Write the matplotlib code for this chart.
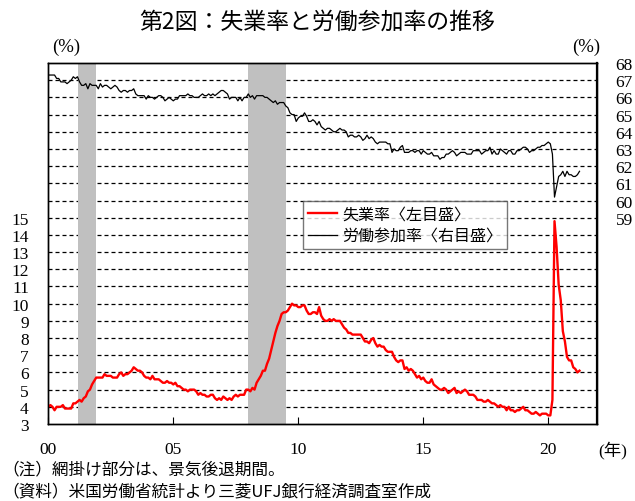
#!/usr/bin/env python3
"""US unemployment rate and labour force participation rate, 2000-2021."""

import numpy as np
import matplotlib

matplotlib.use("Agg")
import matplotlib.pyplot as plt
from matplotlib.lines import Line2D

JP_FONT = ["Noto Sans CJK JP", "DejaVu Sans"]
NUM_FONT = ["Liberation Serif", "DejaVu Serif"]

plt.rcParams["font.family"] = NUM_FONT

START_YEAR = 2000

# monthly, Jan 2000 - Apr 2021 (%)
UNEMPLOYMENT = [
    4.0, 4.1, 4.0, 3.8, 4.0, 4.0, 4.0, 4.1, 3.9, 3.9, 3.9, 3.9,
    4.2, 4.2, 4.3, 4.4, 4.3, 4.5, 4.6, 4.9, 5.0, 5.3, 5.5, 5.7,
    5.7, 5.7, 5.7, 5.9, 5.8, 5.8, 5.8, 5.7, 5.7, 5.7, 5.9, 6.0,
    5.8, 5.9, 5.9, 6.0, 6.1, 6.3, 6.2, 6.1, 6.1, 6.0, 5.8, 5.7,
    5.7, 5.6, 5.8, 5.6, 5.6, 5.6, 5.5, 5.4, 5.4, 5.5, 5.4, 5.4,
    5.3, 5.4, 5.2, 5.2, 5.1, 5.0, 5.0, 4.9, 5.0, 5.0, 5.0, 4.9,
    4.7, 4.8, 4.7, 4.7, 4.6, 4.6, 4.7, 4.7, 4.5, 4.4, 4.5, 4.4,
    4.6, 4.5, 4.4, 4.5, 4.4, 4.6, 4.7, 4.6, 4.7, 4.7, 4.7, 5.0,
    5.0, 4.9, 5.1, 5.0, 5.4, 5.6, 5.8, 6.1, 6.1, 6.5, 6.8, 7.3,
    7.8, 8.3, 8.7, 9.0, 9.4, 9.5, 9.5, 9.6, 9.8, 10.0, 9.9, 9.9,
    9.8, 9.8, 9.9, 9.9, 9.6, 9.4, 9.4, 9.5, 9.5, 9.4, 9.8, 9.3,
    9.1, 9.0, 9.0, 9.1, 9.0, 9.1, 9.0, 9.0, 9.0, 8.8, 8.6, 8.5,
    8.3, 8.3, 8.2, 8.2, 8.2, 8.2, 8.2, 8.0, 7.8, 7.8, 7.7, 7.9,
    8.0, 7.7, 7.5, 7.6, 7.5, 7.5, 7.3, 7.2, 7.2, 7.2, 6.9, 6.7,
    6.6, 6.7, 6.7, 6.2, 6.3, 6.1, 6.2, 6.1, 5.9, 5.7, 5.8, 5.6,
    5.7, 5.5, 5.4, 5.4, 5.6, 5.3, 5.2, 5.1, 5.0, 5.0, 5.1, 5.0,
    4.8, 4.9, 5.0, 5.1, 4.8, 4.9, 4.8, 4.9, 5.0, 4.9, 4.7, 4.7,
    4.7, 4.6, 4.4, 4.4, 4.4, 4.3, 4.3, 4.4, 4.3, 4.2, 4.2, 4.1,
    4.0, 4.1, 4.0, 4.0, 3.8, 4.0, 3.8, 3.8, 3.7, 3.8, 3.8, 3.9,
    4.0, 3.8, 3.8, 3.7, 3.6, 3.6, 3.7, 3.6, 3.5, 3.6, 3.6, 3.6,
    3.5, 3.5, 4.4, 14.8, 13.3, 11.1, 10.2, 8.4, 7.8, 6.9, 6.7, 6.7,
    6.3, 6.2, 6.0, 6.1,
]

PARTICIPATION = [
    67.3, 67.3, 67.3, 67.3, 67.1, 67.1, 66.9, 66.9, 66.9, 66.8, 66.9, 67.0,
    67.2, 67.1, 67.2, 66.9, 66.7, 66.7, 66.8, 66.5, 66.8, 66.7, 66.7, 66.7,
    66.5, 66.8, 66.6, 66.7, 66.7, 66.6, 66.5, 66.6, 66.7, 66.6, 66.4, 66.3,
    66.4, 66.4, 66.3, 66.4, 66.4, 66.5, 66.2, 66.1, 66.1, 66.1, 66.1, 65.9,
    66.1, 66.0, 66.0, 65.9, 66.0, 66.1, 66.1, 66.0, 65.8, 65.9, 66.0, 65.9,
    65.8, 65.9, 65.9, 66.1, 66.1, 66.1, 66.1, 66.2, 66.1, 66.1, 66.0, 66.0,
    66.0, 66.1, 66.2, 66.1, 66.1, 66.2, 66.1, 66.2, 66.1, 66.2, 66.3, 66.4,
    66.4, 66.3, 66.2, 65.9, 66.0, 66.0, 66.0, 65.8, 66.0, 65.8, 66.0, 66.0,
    66.2, 66.0, 66.1, 65.9, 66.1, 66.1, 66.1, 66.1, 66.0, 66.0, 65.9, 65.8,
    65.7, 65.8, 65.6, 65.7, 65.7, 65.7, 65.5, 65.4, 65.1, 65.0, 65.0, 64.6,
    64.8, 64.9, 64.9, 65.1, 64.9, 64.6, 64.6, 64.7, 64.6, 64.4, 64.6, 64.3,
    64.2, 64.1, 64.2, 64.2, 64.1, 64.0, 64.0, 64.1, 64.2, 64.1, 64.1, 64.0,
    63.7, 63.8, 63.8, 63.7, 63.7, 63.8, 63.7, 63.5, 63.6, 63.8, 63.6, 63.7,
    63.6, 63.4, 63.3, 63.4, 63.4, 63.4, 63.4, 63.3, 63.3, 62.8, 63.0, 62.9,
    62.9, 63.1, 63.2, 62.8, 62.8, 62.8, 62.9, 62.9, 62.8, 62.9, 62.9, 62.7,
    62.9, 62.8, 62.7, 62.7, 62.8, 62.6, 62.6, 62.6, 62.4, 62.5, 62.5, 62.7,
    62.7, 62.8, 62.9, 62.8, 62.6, 62.7, 62.8, 62.8, 62.8, 62.7, 62.7, 62.7,
    62.9, 62.9, 62.9, 62.9, 62.7, 62.8, 62.9, 62.9, 63.1, 62.7, 62.9, 62.7,
    62.7, 63.0, 62.9, 62.8, 62.7, 62.9, 62.9, 62.7, 62.7, 62.9, 62.9, 63.0,
    63.1, 63.1, 63.0, 62.8, 62.9, 62.9, 63.0, 63.1, 63.1, 63.2, 63.2, 63.3,
    63.4, 63.3, 62.7, 60.2, 60.8, 61.4, 61.5, 61.7, 61.4, 61.7, 61.5, 61.5,
    61.4, 61.4, 61.5, 61.7,
]

RECESSIONS = [(2001.17, 2001.92), (2008.0, 2009.5)]

LEFT_TICKS = list(range(3, 16))
RIGHT_TICKS = list(range(59, 69))
X_TICKS = [2000, 2005, 2010, 2015, 2020]
X_TICK_LABELS = ["00", "05", "10", "15", "20"]

TITLE = "第2図：失業率と労働参加率の推移"
LEGEND_LABELS = ["失業率〈左目盛〉", "労働参加率〈右目盛〉"]
NOTES = ["（注）網掛け部分は、景気後退期間。",
         "（資料）米国労働省統計より三菱UFJ銀行経済調査室作成"]


def main():
    fig = plt.figure(figsize=(6.35, 5.02), dpi=100)
    ax = fig.add_axes([48.3 / 635, 77 / 502, 548.7 / 635, 361 / 502])
    ax2 = ax.twinx()

    months = START_YEAR + np.arange(len(UNEMPLOYMENT)) / 12
    months_p = START_YEAR + np.arange(len(PARTICIPATION)) / 12

    ax.set_xlim(2000, 2021.95)
    ax.set_ylim(3, 24)
    ax2.set_ylim(47, 68)

    for level in range(4, 24):
        ax.axhline(level, color="black", lw=0.9, ls=(0, (3.2, 2.4)), zorder=1)
    for start, end in RECESSIONS:
        ax.axvspan(start, end, color="#c0c0c0", lw=0, zorder=2)

    ax.plot(months, UNEMPLOYMENT, color="#ff0000", lw=1.7, zorder=3)
    ax2.plot(months_p, PARTICIPATION, color="black", lw=0.9, zorder=3)

    ax.set_yticks(LEFT_TICKS)
    ax.set_yticklabels([str(t) for t in LEFT_TICKS], fontsize=12.5)
    ax.tick_params(axis="y", length=0, pad=14)
    ax2.set_yticks(RIGHT_TICKS)
    ax2.set_yticklabels([str(t) for t in RIGHT_TICKS], fontsize=12.5)
    ax2.tick_params(axis="y", length=0, pad=13.5)

    ax.set_xticks(X_TICKS)
    ax.set_xticklabels(X_TICK_LABELS, fontsize=12.5)
    ax.tick_params(axis="x", direction="in", length=5, width=0.8, pad=12.5)

    for a in (ax, ax2):
        for spine in a.spines.values():
            spine.set_color("black")
            spine.set_linewidth(1.0)
    ax2.spines["right"].set_linewidth(1.6)

    handles = [Line2D([], [], color="#ff0000", lw=1.7),
               Line2D([], [], color="black", lw=0.9)]
    leg = ax2.legend(handles, LEGEND_LABELS, loc="upper left",
                     bbox_to_anchor=((303 - 48.3) / 548.7, (425 - 202) / 361),
                     prop={"family": JP_FONT, "size": 11.5}, frameon=True,
                     fancybox=False, borderpad=0.3, handlelength=1.8,
                     handletextpad=0.35, labelspacing=0.3, borderaxespad=0)
    leg.get_frame().set_edgecolor("#555555")
    leg.get_frame().set_linewidth(1.0)

    fig.text(0.5, 1 - 22 / 502, TITLE, ha="center", va="center",
             family=JP_FONT, fontsize=16.5)
    fig.text(66 / 635, 1 - 47 / 502, "(%)", ha="center", va="center",
             fontsize=13.5)
    fig.text(586 / 635, 1 - 47 / 502, "(%)", ha="center", va="center",
             fontsize=13.5)
    fig.text(613 / 635, 1 - 450 / 502, "(年)", ha="center", va="center",
             family=NUM_FONT[:1] + JP_FONT, fontsize=12.5)
    fig.text(2 / 635, 1 - 470 / 502, NOTES[0], ha="left", va="center",
             family=JP_FONT, fontsize=12)
    fig.text(2 / 635, 1 - 492 / 502, NOTES[1], ha="left", va="center",
             family=JP_FONT, fontsize=12)

    fig.savefig("out.png", dpi=100)


if __name__ == "__main__":
    main()
